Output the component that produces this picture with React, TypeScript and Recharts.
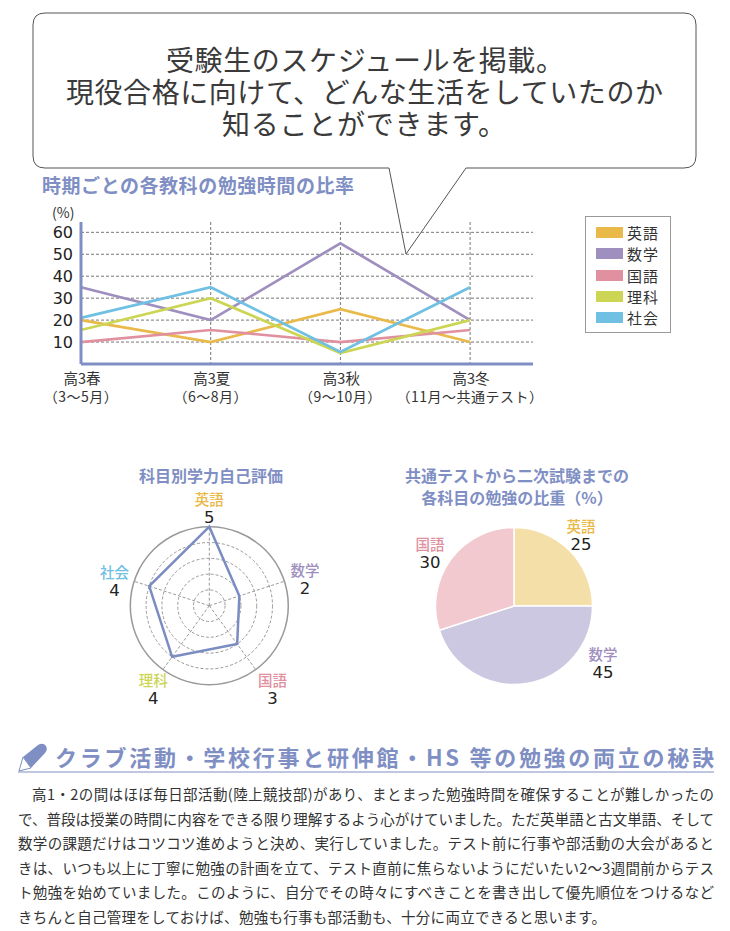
import {
  LineChart,
  Line,
  XAxis,
  YAxis,
  CartesianGrid,
  Legend,
  RadarChart,
  Radar,
  PolarGrid,
  PolarAngleAxis,
  PolarRadiusAxis,
  PieChart,
  Pie,
  Cell,
} from "recharts";

const FONT = "'Noto Sans CJK JP', 'Noto Sans', sans-serif";
const NUM_FONT = "'DejaVu Sans', sans-serif";
const BLUE = "#7f8fc4";

const SUBJECT_COLORS: Record<string, string> = {
  英語: "#e9b949",
  数学: "#9f8fbf",
  国語: "#e0909f",
  理科: "#ccd654",
  社会: "#6fc0e2",
};

// line chart
const seasons = ["高3春", "高3夏", "高3秋", "高3冬"];
const months = ["（3〜5月）", "（6〜8月）", "（9〜10月）", "（11月〜共通テスト）"];
const eigo = [20, 10, 25, 10];
const suugaku = [35, 20, 55, 20];
const kokugo = [10, 15.5, 10, 15.5];
const rika = [15.5, 30, 5, 20];
const shakai = [21, 35, 5.5, 35];
const lineSubjects = ["英語", "数学", "国語", "理科", "社会"];
const lineValues = [eigo, suugaku, kokugo, rika, shakai];
const yTicks = [10, 20, 30, 40, 50, 60];

const lineData = seasons.map((s, i) => {
  const row: Record<string, number | string> = { idx: i, season: s };
  lineSubjects.forEach((name, j) => {
    row[name] = lineValues[j][i];
  });
  return row;
});

// radar
const radarSubjects = ["英語", "数学", "国語", "理科", "社会"];
const radarScores = [5, 2, 3, 4, 4];
const radarData = radarSubjects.map((name, i) => ({ name, score: radarScores[i] }));
const radarLabelOffsets = [
  [0, -18],
  [13, -7],
  [12, 6],
  [-5, 6],
  [-12, -5],
];

// pie
const pieSubjects = ["英語", "数学", "国語"];
const pieValues = [25, 45, 30];
const pieColors = ["#f5dfa8", "#cdc8e1", "#f2c9cf"];
const pieData = pieSubjects.map((name, i) => ({ name, value: pieValues[i] }));
const pieLabelOffsets = [
  [67, -78],
  [89, 50],
  [-84, -60],
];

const bubbleLines = [
  "受験生のスケジュールを掲載。",
  "現役合格に向けて、どんな生活をしていたのか",
  "知ることができます。",
];
const bubbleWidths = [398, 597, 284];

const bodyLines = [
  "高1・2の間はほぼ毎日部活動(陸上競技部)があり、まとまった勉強時間を確保することが難しかったの",
  "で、普段は授業の時間に内容をできる限り理解するよう心がけていました。ただ英単語と古文単語、そして",
  "数学の課題だけはコツコツ進めようと決め、実行していました。テスト前に行事や部活動の大会があると",
  "きは、いつも以上に丁寧に勉強の計画を立て、テスト直前に焦らないようにだいたい2〜3週間前からテス",
  "ト勉強を始めていました。このように、自分でその時々にすべきことを書き出して優先順位をつけるなど",
  "きちんと自己管理をしておけば、勉強も行事も部活動も、十分に両立できると思います。",
];

function SeasonTick({ x, y, payload }: any) {
  const i = payload.value;
  return (
    <g fontFamily={FONT} fill="#333" textAnchor="middle">
      <text x={x + 1} y={y + 12} fontSize={14.5}>{seasons[i]}</text>
      <text x={x} y={y + 30} fontSize={14} letterSpacing={0.5}>{months[i]}</text>
    </g>
  );
}

function RadarTick({ x, y, payload, index }: any) {
  const [dx, dy] = radarLabelOffsets[index];
  return (
    <g textAnchor="middle">
      <text x={x + dx} y={y + dy + 4} fontFamily={FONT} fontSize={14.5} fontWeight={500} fill={SUBJECT_COLORS[payload.value]}>
        {payload.value}
      </text>
      <text x={x + dx} y={y + dy + 22} fontFamily={NUM_FONT} fontSize={16.5} fill="#222">
        {radarScores[index]}
      </text>
    </g>
  );
}

function PieLabel({ cx, cy, index }: any) {
  const [dx, dy] = pieLabelOffsets[index];
  return (
    <g textAnchor="middle">
      <text x={cx + dx} y={cy + dy + 4} fontFamily={FONT} fontSize={14.5} fontWeight={500} fill={SUBJECT_COLORS[pieSubjects[index]]}>
        {pieSubjects[index]}
      </text>
      <text x={cx + dx} y={cy + dy + 22} fontFamily={NUM_FONT} fontSize={16.5} fill="#222">
        {pieValues[index]}
      </text>
    </g>
  );
}

function LegendBox({ payload }: any) {
  return (
    <div style={{ boxSizing: "border-box", width: 86, height: 117, border: "1px solid #999", padding: "5px 0 0 10px", background: "#fff" }}>
      {(payload ?? []).map((item: any) => (
        <div key={item.value} style={{ display: "flex", alignItems: "center", height: 21.3 }}>
          <span style={{ width: 27, height: 11, background: item.color, marginRight: 4 }} />
          <span style={{ fontFamily: FONT, fontSize: 15, color: "#333", lineHeight: "21px", letterSpacing: 1 }}>{item.value}</span>
        </div>
      ))}
    </div>
  );
}

export default function App() {
  return (
    <div style={{ position: "absolute", left: 0, top: 0, width: 730, height: 931, overflow: "hidden", background: "#fff" }}>
      {/* speech bubble and page text */}
      <svg width={730} height={931} style={{ position: "absolute", left: 0, top: 0 }}>
        <path
          d="M45 13 H684 Q696 13 696 25 V156 Q696 168 684 168 H466 L406 254 L389 168 H45 Q33 168 33 156 V25 Q33 13 45 13 Z"
          fill="#fff"
          stroke="#555"
          strokeWidth={1}
        />
        <g fontFamily={FONT} fontSize={28} fill="#3a3a3a">
          {bubbleLines.map((t, i) => (
            <text key={i} x={[166, 66, 222][i]} y={70.5 + i * 32} textLength={bubbleWidths[i]}>{t}</text>
          ))}
        </g>
        <text x={42} y={193} fontFamily={FONT} fontSize={19} fontWeight={700} fill={BLUE} textLength={312}>
          時期ごとの各教科の勉強時間の比率
        </text>
        <text x={52} y={218} fontFamily={FONT} fontSize={14} fill="#333">(%)</text>

        <text x={211} y={482} fontFamily={FONT} fontSize={16} fontWeight={700} fill={BLUE} textAnchor="middle">
          科目別学力自己評価
        </text>
        <text x={517} y={482} fontFamily={FONT} fontSize={16} fontWeight={700} fill={BLUE} textAnchor="middle">
          共通テストから二次試験までの
        </text>
        <text x={517} y={504} fontFamily={FONT} fontSize={16} fontWeight={700} fill={BLUE} textAnchor="middle">
          各科目の勉強の比重（%）
        </text>

        {/* pencil */}
        <path d="M23 757 L38 745 Q43 742 46 746 Q48 750 45 753 L31 768 Z" fill={BLUE} />
        <path d="M23 757 L31 768 L19 771 Z" fill="#fff" stroke={BLUE} strokeWidth={1} />
        <text x={55} y={766} fontFamily={FONT} fontSize={22} fontWeight={700} fill={BLUE} textLength={659}>
          クラブ活動・学校行事と研伸館・HS 等の勉強の両立の秘訣
        </text>
        <line x1={18} y1={772} x2={714} y2={772} stroke={BLUE} strokeWidth={1} />

        <g fontFamily={FONT} fontSize={14.5} fill="#333">
          {bodyLines.map((t, i) => (
            <text
              key={i}
              x={i === 0 ? 32 : 18}
              y={800 + i * 24.5}
              textLength={i === 5 ? 588 : i === 0 ? 682 : 696}
            >
              {t}
            </text>
          ))}
        </g>
      </svg>

      {/* line chart */}
      <div style={{ position: "absolute", left: 0, top: 200 }}>
        <LineChart width={730} height={220} data={lineData} margin={{ top: 22, right: 197, bottom: 6, left: 0 }}>
          <CartesianGrid stroke="#777" strokeDasharray="3 2" strokeWidth={1} syncWithTicks />
          <XAxis
            dataKey="idx"
            type="number"
            domain={[0, 3.485]}
            ticks={[0, 1, 2, 3]}
            tick={<SeasonTick />}
            tickLine={false}
            height={50}
            interval={0}
            axisLine={{ stroke: BLUE, strokeWidth: 3 }}
          />
          <YAxis
            type="number"
            domain={[0, 64.7]}
            ticks={yTicks}
            width={81}
            interval={0}
            tickLine={false}
            tickMargin={2}
            tick={{ fill: "#222", fontSize: 16, fontFamily: NUM_FONT }}
            axisLine={{ stroke: BLUE, strokeWidth: 3 }}
          />
          <Legend
            layout="vertical"
            align="center"
            verticalAlign="middle"
            itemSorter={null}
            content={<LegendBox />}
            wrapperStyle={{ position: "absolute", left: 585, top: 16, width: 86, height: 117 }}
          />
          {lineSubjects.map((name) => (
            <Line
              key={name}
              dataKey={name}
              stroke={SUBJECT_COLORS[name]}
              strokeWidth={2.7}
              dot={false}
              activeDot={false}
              isAnimationActive={false}
            />
          ))}
        </LineChart>
      </div>

      {/* radar */}
      <div style={{ position: "absolute", left: 60, top: 480 }}>
        <RadarChart width={300} height={240} cx={149.3} cy={125.7} outerRadius={79} data={radarData} margin={{ top: 0, right: 0, bottom: 0, left: 0 }}>
          <PolarGrid gridType="circle" stroke="#999" strokeDasharray="3 2" polarRadius={[15.8, 31.6, 47.4, 63.2]} />
          <PolarGrid gridType="circle" stroke="#999" strokeWidth={1.5} radialLines={false} polarRadius={[79]} />
          <PolarAngleAxis dataKey="name" tick={<RadarTick />} tickLine={false} axisLine={false} />
          <PolarRadiusAxis domain={[0, 5]} tickCount={6} tick={false} axisLine={false} />
          <Radar dataKey="score" stroke="#7a8cc2" strokeWidth={2.5} fill="none" dot={false} isAnimationActive={false} />
        </RadarChart>
      </div>

      {/* pie */}
      <div style={{ position: "absolute", left: 395, top: 500 }}>
        <PieChart width={240} height={200} margin={{ top: 0, right: 0, bottom: 0, left: 0 }}>
          <Pie
            data={pieData}
            dataKey="value"
            nameKey="name"
            cx={119}
            cy={106}
            outerRadius={78.5}
            startAngle={90}
            endAngle={-270}
            stroke="#fff"
            strokeWidth={1.5}
            label={<PieLabel />}
            labelLine={false}
            isAnimationActive={false}
          >
            {pieData.map((d, i) => (
              <Cell key={d.name} fill={pieColors[i]} />
            ))}
          </Pie>
        </PieChart>
      </div>
    </div>
  );
}
